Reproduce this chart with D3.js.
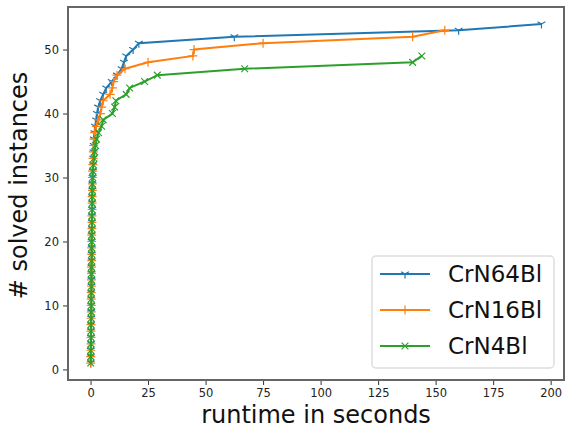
<!DOCTYPE html>
<html>
<head>
<meta charset="utf-8">
<script src="https://cdn.jsdelivr.net/npm/d3@7"></script>
<style>
  body { margin: 0; background: #fff; }
  svg { font-family: "DejaVu Sans", sans-serif; }
</style>
</head>
<body>
<div id="chart"></div>
<script>
// sorted runtimes (seconds); y = number of solved instances (1..N)
let crn64 = [0.1, 0.1, 0.1, 0.2, 0.2, 0.2, 0.2, 0.3, 0.3, 0.3, 0.3, 0.3, 0.4, 0.4, 0.4,
    0.4, 0.5, 0.5, 0.5, 0.5, 0.5, 0.6, 0.6, 0.6, 0.7, 0.7, 0.7, 0.8, 0.8, 0.9,
    1.0, 1.1, 1.2, 1.3, 1.4, 1.5, 1.7, 2.0, 2.4, 2.8, 3.3, 4.2, 5.5, 6.8, 9.2,
    11.5, 13.5, 14.5, 15.5, 18.5, 21, 62.5, 160, 196];
let crn16 = [0.1, 0.1, 0.1, 0.2, 0.2, 0.2, 0.2, 0.3, 0.3, 0.3, 0.3, 0.3, 0.4, 0.4, 0.4,
    0.4, 0.5, 0.5, 0.5, 0.5, 0.5, 0.6, 0.6, 0.6, 0.7, 0.7, 0.7, 0.8, 0.8, 0.8,
    0.9, 1.0, 1.1, 1.2, 1.3, 1.5, 1.8, 2.5, 3.5, 4.3, 4.8, 5.5, 8.5, 9.5, 10,
    11.5, 15, 25, 44.5, 45, 75, 140, 154];
let crn4 = [0.1, 0.1, 0.1, 0.2, 0.2, 0.2, 0.2, 0.3, 0.3, 0.3, 0.3, 0.3, 0.4, 0.4, 0.4,
    0.4, 0.5, 0.5, 0.5, 0.5, 0.5, 0.6, 0.6, 0.6, 0.7, 0.7, 0.7, 0.8, 0.8, 0.9,
    1.0, 1.2, 1.5, 1.8, 2.2, 2.6, 3.5, 4.8, 5.5, 9.5, 10.5, 11, 15.5, 17, 23.5,
    29, 67, 140, 144];
let seriesNames = ["CrN64Bl", "CrN16Bl", "CrN4Bl"];
let seriesColors = ["#1f77b4", "#ff7f0e", "#2ca02c"];
let seriesMarkers = ["tri", "plus", "x"];
let xTicks = [0, 25, 50, 75, 100, 125, 150, 175, 200];
let yTicks = [0, 10, 20, 30, 40, 50];

const width = 566, height = 428;
const margin = {top: 7, right: 2, bottom: 48, left: 68};
const plotW = width - margin.left - margin.right;
const plotH = height - margin.top - margin.bottom;

let svg = d3.select("#chart").append("svg")
    .attr("width", width)
    .attr("height", height);

let g = svg.append("g")
    .attr("transform", `translate(${margin.left}, ${margin.top})`);

let x = d3.scaleLinear().domain([-9.8, 205.8]).range([0, plotW]);
let y = d3.scaleLinear().domain([-1.65, 56.65]).range([plotH, 0]);

// axes
let xAxis = g.append("g")
    .attr("transform", `translate(0, ${plotH})`)
    .call(d3.axisBottom(x).tickValues(xTicks).tickSize(5).tickPadding(4));
let yAxis = g.append("g")
    .call(d3.axisLeft(y).tickValues(yTicks).tickSize(5).tickPadding(4));
[xAxis, yAxis].forEach(a => {
    a.select(".domain").remove();
    a.selectAll("line").attr("stroke", "#333").attr("stroke-width", 1);
    a.selectAll("text").attr("fill", "#222").style("font-size", "11.5px")
        .style("font-family", "DejaVu Sans");
});

function markerPath(type, s) {
    if (type == "tri") {
        return `M0,0L0,${s}M0,0L${-s * 0.866},${-s * 0.5}M0,0L${s * 0.866},${-s * 0.5}`;
    } else if (type == "plus") {
        return `M${-s},0L${s},0M0,${-s}L0,${s}`;
    }
    let k = s * 0.75;
    return `M${-k},${-k}L${k},${k}M${-k},${k}L${k},${-k}`;
}

let all = [crn64, crn16, crn4];
let line = d3.line().x(d => x(d[0])).y(d => y(d[1]));

all.forEach(function(vals, i) {
    let pts = vals.map((v, j) => [v, j + 1]);
    g.append("path")
        .datum(pts)
        .attr("fill", "none")
        .attr("stroke", seriesColors[i])
        .attr("stroke-width", 2)
        .attr("d", line);
    g.append("g").selectAll("path").data(pts).enter()
        .append("path")
        .attr("transform", d => `translate(${x(d[0])}, ${y(d[1])})`)
        .attr("d", markerPath(seriesMarkers[i], 4.5))
        .attr("stroke", seriesColors[i])
        .attr("stroke-width", 1.2)
        .attr("fill", "none");
});

// frame
g.append("rect")
    .attr("width", plotW)
    .attr("height", plotH)
    .attr("fill", "none")
    .attr("stroke", "#666")
    .attr("stroke-width", 2);

// axis titles
svg.append("text")
    .attr("x", margin.left + plotW / 2)
    .attr("y", height - 5)
    .style("text-anchor", "middle")
    .style("font-size", "24px")
    .attr("fill", "#111")
    .text("runtime in seconds");

svg.append("text")
    .attr("transform", `translate(27, ${margin.top + plotH / 2 - 8}) rotate(-90)`)
    .style("text-anchor", "middle")
    .style("font-size", "24px")
    .attr("fill", "#111")
    .text("# solved instances");

// legend
let legend = g.append("g")
    .attr("transform", `translate(${372 - margin.left}, ${256 - margin.top})`);
legend.append("rect")
    .attr("width", 182)
    .attr("height", 112)
    .attr("rx", 4)
    .attr("fill", "#fff")
    .attr("fill-opacity", 0.8)
    .attr("stroke", "#ddd")
    .attr("stroke-width", 1.5);

seriesNames.forEach(function(name, i) {
    let ly = 18 + i * 36;
    legend.append("line")
        .attr("x1", 8).attr("x2", 58)
        .attr("y1", ly).attr("y2", ly)
        .attr("stroke", seriesColors[i])
        .attr("stroke-width", 2);
    legend.append("path")
        .attr("transform", `translate(33, ${ly})`)
        .attr("d", markerPath(seriesMarkers[i], 4.5))
        .attr("stroke", seriesColors[i])
        .attr("stroke-width", 1.2)
        .attr("fill", "none");
    legend.append("text")
        .attr("x", 76)
        .attr("y", ly + 8)
        .style("font-size", "23px")
        .attr("fill", "#111")
        .text(name);
});
</script>
</body>
</html>
